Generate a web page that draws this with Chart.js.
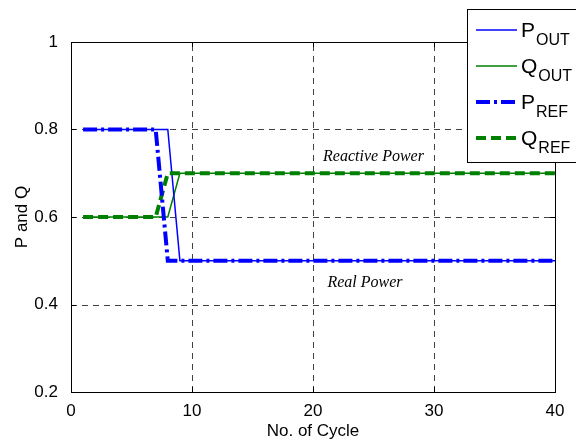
<!DOCTYPE html>
<html>
<head>
<meta charset="utf-8">
<script src="https://cdn.jsdelivr.net/npm/chart.js@4/dist/chart.umd.min.js"></script>
<style>
  html, body { margin: 0; padding: 0; background: #fff; }
  #wrap { width: 576px; height: 442px; position: relative; }
</style>
</head>
<body>
<div id="wrap"><canvas id="c"></canvas></div>
<script>
// cycle numbers and per-cycle values
var cycles = [1, 2, 3, 4, 5, 6, 7, 8, 9, 10, 11, 12, 13, 14, 15, 16, 17, 18, 19, 20,
              21, 22, 23, 24, 25, 26, 27, 28, 29, 30, 31, 32, 33, 34, 35, 36, 37, 38, 39, 40];
var pOut = [0.8, 0.8, 0.8, 0.8, 0.8, 0.8, 0.8, 0.8, 0.5, 0.5, 0.5, 0.5, 0.5, 0.5, 0.5, 0.5, 0.5, 0.5, 0.5, 0.5,
            0.5, 0.5, 0.5, 0.5, 0.5, 0.5, 0.5, 0.5, 0.5, 0.5, 0.5, 0.5, 0.5, 0.5, 0.5, 0.5, 0.5, 0.5, 0.5, 0.5];
var qOut = [0.6, 0.6, 0.6, 0.6, 0.6, 0.6, 0.6, 0.6, 0.7, 0.7, 0.7, 0.7, 0.7, 0.7, 0.7, 0.7, 0.7, 0.7, 0.7, 0.7,
            0.7, 0.7, 0.7, 0.7, 0.7, 0.7, 0.7, 0.7, 0.7, 0.7, 0.7, 0.7, 0.7, 0.7, 0.7, 0.7, 0.7, 0.7, 0.7, 0.7];
var pRef = [0.8, 0.8, 0.8, 0.8, 0.8, 0.8, 0.8, 0.5, 0.5, 0.5, 0.5, 0.5, 0.5, 0.5, 0.5, 0.5, 0.5, 0.5, 0.5, 0.5,
            0.5, 0.5, 0.5, 0.5, 0.5, 0.5, 0.5, 0.5, 0.5, 0.5, 0.5, 0.5, 0.5, 0.5, 0.5, 0.5, 0.5, 0.5, 0.5, 0.5];
var qRef = [0.6, 0.6, 0.6, 0.6, 0.6, 0.6, 0.6, 0.7, 0.7, 0.7, 0.7, 0.7, 0.7, 0.7, 0.7, 0.7, 0.7, 0.7, 0.7, 0.7,
            0.7, 0.7, 0.7, 0.7, 0.7, 0.7, 0.7, 0.7, 0.7, 0.7, 0.7, 0.7, 0.7, 0.7, 0.7, 0.7, 0.7, 0.7, 0.7, 0.7];

var xTicks = [0, 10, 20, 30, 40];
var yTicks = [0.2, 0.4, 0.6, 0.8, 1];

// text labels inside the plot, in data coordinates
var notes = [
  {text: 'Reactive Power', x: 25, y: 0.737},
  {text: 'Real Power', x: 24.3, y: 0.449}
];

var BLUE = '#0000ff';
var GREEN = '#008000';
var SANS = '"Liberation Sans", Arial, Helvetica, sans-serif';

function pts(ys) {
  return cycles.map(function(c, i) { return {x: c, y: ys[i]}; });
}

var series = [
  {name: 'P', sub: 'OUT', data: pOut, color: BLUE, width: 1.5, dash: [], order: 2},
  {name: 'Q', sub: 'OUT', data: qOut, color: GREEN, width: 1.5, dash: [], order: 2},
  {name: 'P', sub: 'REF', data: pRef, color: BLUE, width: 4, dash: [14, 4, 3, 4], order: 1},
  {name: 'Q', sub: 'REF', data: qRef, color: GREEN, width: 4, dash: [10, 5], order: 1}
];

var framePlugin = {
  id: 'frame',
  beforeDatasetsDraw: function(chart) {
    // dashed grid at the inner ticks
    var ctx = chart.ctx, a = chart.chartArea;
    var xs = chart.scales.x, ys = chart.scales.y;
    ctx.save();
    ctx.strokeStyle = '#111';
    ctx.lineWidth = 0.8;
    ctx.setLineDash([6, 5]);
    ctx.beginPath();
    xTicks.slice(1, -1).forEach(function(v) {
      var px = Math.round(xs.getPixelForValue(v)) + 0.5;
      ctx.moveTo(px, a.bottom); ctx.lineTo(px, a.top);
    });
    yTicks.slice(1, -1).forEach(function(v) {
      var py = Math.round(ys.getPixelForValue(v)) + 0.5;
      ctx.moveTo(a.left, py); ctx.lineTo(a.right, py);
    });
    ctx.stroke();
    ctx.restore();
  },
  afterDatasetsDraw: function(chart) {
    var ctx = chart.ctx, a = chart.chartArea;
    var xs = chart.scales.x, ys = chart.scales.y;
    ctx.save();

    // notes
    ctx.fillStyle = '#000';
    ctx.textAlign = 'center';
    ctx.textBaseline = 'middle';
    ctx.font = 'italic 16px "Liberation Serif", "Times New Roman", serif';
    notes.forEach(function(n) {
      ctx.fillText(n.text, xs.getPixelForValue(n.x), ys.getPixelForValue(n.y));
    });

    // box
    ctx.strokeStyle = '#000';
    ctx.lineWidth = 1;
    ctx.setLineDash([]);
    ctx.strokeRect(a.left + 0.5, a.top + 0.5, a.right - a.left, a.bottom - a.top);

    // inward ticks on all sides
    ctx.beginPath();
    xTicks.forEach(function(v) {
      var px = Math.round(xs.getPixelForValue(v)) + 0.5;
      ctx.moveTo(px, a.bottom); ctx.lineTo(px, a.bottom - 5);
      ctx.moveTo(px, a.top); ctx.lineTo(px, a.top + 5);
    });
    yTicks.forEach(function(v) {
      var py = Math.round(ys.getPixelForValue(v)) + 0.5;
      ctx.moveTo(a.left, py); ctx.lineTo(a.left + 5, py);
      ctx.moveTo(a.right, py); ctx.lineTo(a.right - 5, py);
    });
    ctx.stroke();

    // legend
    var lx = 467.5, ly = 9.5;
    ctx.fillStyle = '#fff';
    ctx.fillRect(lx, ly, 120, 153);
    ctx.strokeRect(lx, ly, 120, 153);
    series.forEach(function(s, i) {
      var y = 30 + i * 36;
      ctx.strokeStyle = s.color;
      ctx.lineWidth = s.width;
      ctx.setLineDash(s.dash);
      ctx.beginPath();
      ctx.moveTo(476, y);
      ctx.lineTo(517, y);
      ctx.stroke();
      ctx.setLineDash([]);
      ctx.fillStyle = '#000';
      ctx.textAlign = 'left';
      ctx.textBaseline = 'alphabetic';
      ctx.font = '21px ' + SANS;
      ctx.fillText(s.name, 521, y + 7);
      var w = ctx.measureText(s.name).width;
      ctx.font = '16px ' + SANS;
      ctx.fillText(s.sub, 521 + w + 1, y + 15);
    });
    ctx.restore();
  }
};

Chart.defaults.font.family = SANS;
Chart.defaults.color = '#000';

new Chart(document.getElementById('c'), {
  type: 'line',
  data: {
    datasets: series.map(function(s) {
      return {
        label: s.name + s.sub,
        data: pts(s.data),
        borderColor: s.color,
        borderWidth: s.width,
        borderDash: s.dash,
        pointRadius: 0,
        tension: 0,
        fill: false,
        order: s.order
      };
    })
  },
  options: {
    responsive: true,
    maintainAspectRatio: false,
    animation: false,
    layout: {padding: {left: 0, top: 42, right: 21, bottom: 0}},
    plugins: {legend: {display: false}, tooltip: {enabled: false}},
    scales: {
      x: {
        type: 'linear', min: 0, max: 40,
        afterBuildTicks: function(scale) { scale.ticks = xTicks.map(function(v) { return {value: v}; }); },
        afterFit: function(scale) { scale.height = 50; },
        ticks: {font: {size: 17}, padding: 1, maxRotation: 0},
        grid: {display: false},
        border: {display: false},
        title: {display: true, text: 'No. of Cycle', font: {size: 17}, padding: {top: 0, bottom: 0}}
      },
      y: {
        min: 0.2, max: 1,
        afterBuildTicks: function(scale) { scale.ticks = yTicks.map(function(v) { return {value: v}; }); },
        afterFit: function(scale) { scale.width = 71; },
        ticks: {font: {size: 17}, padding: 5,
          callback: function(v) { return String(Number(v.toFixed(1))); }},
        grid: {display: false},
        border: {display: false},
        title: {display: true, text: 'P and Q', font: {size: 17}, padding: {top: 12, bottom: 12}}
      }
    }
  },
  plugins: [framePlugin]
});
</script>
</body>
</html>
